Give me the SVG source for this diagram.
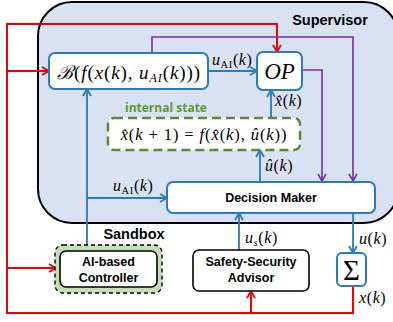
<svg xmlns="http://www.w3.org/2000/svg" width="393" height="322" viewBox="0 0 393 322">
  <defs>
    <style>
      .lbl { font-family: "Liberation Sans", Arial, sans-serif; font-weight: bold; fill: #000; text-anchor: middle; }
      .math { font-family: "Liberation Serif", "DejaVu Serif", serif; font-style: italic; fill: #000; }
      .rm { font-style: normal; }
      .box { fill: #fff; stroke: #2a7abf; stroke-width: 2; }
      .blk { fill: #fff; stroke: #000; stroke-width: 1.6; }
      .red { fill: none; stroke: #f00000; stroke-width: 2; }
      .blue { fill: none; stroke: #2a7abf; stroke-width: 1.8; }
      .purple { fill: none; stroke: #7030a0; stroke-width: 1.6; }
    </style>
    <marker id="ah-red" markerWidth="10" markerHeight="10" refX="8" refY="5" orient="auto" markerUnits="userSpaceOnUse">
      <path d="M1,1 L8,5 L1,9" fill="none" stroke="#f00000" stroke-width="1.8"/>
    </marker>
    <marker id="ah-blue" markerWidth="10" markerHeight="10" refX="8" refY="5" orient="auto" markerUnits="userSpaceOnUse">
      <path d="M1,1 L8,5 L1,9" fill="none" stroke="#2a7abf" stroke-width="1.8"/>
    </marker>
    <marker id="ah-purple" markerWidth="10" markerHeight="10" refX="8" refY="5" orient="auto" markerUnits="userSpaceOnUse">
      <path d="M1,1 L8,5 L1,9" fill="none" stroke="#7030a0" stroke-width="1.6"/>
    </marker>
  </defs>

  <rect width="393" height="322" fill="#fff"/>

  <!-- supervisor region -->
  <g id="supervisor">
    <rect x="38" y="2" width="360" height="221" rx="34" fill="#d9e2f3" stroke="#000" stroke-width="2"/>
    <text class="lbl" x="330" y="25" font-size="14.5">Supervisor</text>
    <text class="lbl" x="134" y="239" font-size="14.5">Sandbox</text>
  </g>

  <!-- connectors -->
  <g id="connectors">
    <!-- feedback of x(k) -->
    <path class="red" d="M353,286 V313 H7 V24 H277 V52" marker-end="url(#ah-red)"/>
    <path class="red" d="M7,71 H49" marker-end="url(#ah-red)"/>
    <path class="red" d="M7,268 H56" marker-end="url(#ah-red)"/>
    <path class="red" d="M251,313 V291" marker-end="url(#ah-red)"/>

    <!-- control signals -->
    <path class="blue" d="M208,71 H257" marker-end="url(#ah-blue)"/>
    <path class="blue" d="M87,245 V89" marker-end="url(#ah-blue)"/>
    <path class="blue" d="M87,198 H167" marker-end="url(#ah-blue)"/>
    <path class="blue" d="M271,118 V90" marker-end="url(#ah-blue)"/>
    <path class="blue" d="M260,182 V150" marker-end="url(#ah-blue)"/>
    <path class="blue" d="M239,250 V213" marker-end="url(#ah-blue)"/>
    <path class="blue" d="M353,213 V253" marker-end="url(#ah-blue)"/>

    <!-- supervisor decisions -->
    <path class="purple" d="M152,53 V37 H353 V181" marker-end="url(#ah-purple)"/>
    <path class="purple" d="M302,70 H322 V181" marker-end="url(#ah-purple)"/>

    <!-- signal labels -->
    <text class="math" x="212" y="65" font-size="16" letter-spacing="0.6">u<tspan class="rm" font-size="10.5" dy="3">AI</tspan><tspan class="rm" dy="-3">(</tspan>k<tspan class="rm">)</tspan></text>
    <text class="math" x="113" y="191" font-size="16" letter-spacing="0.6">u<tspan class="rm" font-size="10.5" dy="3">AI</tspan><tspan class="rm" dy="-3">(</tspan>k<tspan class="rm">)</tspan></text>
    <text class="math" x="275" y="106" font-size="16" letter-spacing="0.6">x̂<tspan class="rm">(</tspan>k<tspan class="rm">)</tspan></text>
    <text class="math" x="265" y="171" font-size="16" letter-spacing="0.6">û<tspan class="rm">(</tspan>k<tspan class="rm">)</tspan></text>
    <text class="math" x="245" y="243" font-size="16" letter-spacing="0.6">u<tspan font-size="10.5" dy="3">s</tspan><tspan class="rm" dy="-3">(</tspan>k<tspan class="rm">)</tspan></text>
    <text class="math" x="359" y="244" font-size="16" letter-spacing="0.6">u<tspan class="rm">(</tspan>k<tspan class="rm">)</tspan></text>
    <text class="math" x="359" y="303" font-size="16" letter-spacing="0.6">x<tspan class="rm">(</tspan>k<tspan class="rm">)</tspan></text>
  </g>

  <g id="barrier">
    <rect class="box" x="49" y="53" width="159" height="36" rx="6"/>
    <text class="math" x="129" y="79" font-size="19" letter-spacing="0.9" text-anchor="middle">ℬ<tspan class="rm">(</tspan>f<tspan class="rm">(</tspan>x<tspan class="rm">(</tspan>k<tspan class="rm">), </tspan>u<tspan font-size="12" dy="3">AI</tspan><tspan class="rm" dy="-3">(</tspan>k<tspan class="rm">)))</tspan></text>
  </g>

  <g id="op">
    <rect class="box" x="257" y="52" width="45" height="38" rx="6"/>
    <text class="math" x="279.5" y="79" font-size="23" text-anchor="middle">OP</text>
  </g>

  <g id="internal-state">
    <text x="125" y="112" font-family="'Open Sans', 'Liberation Sans', sans-serif" font-weight="bold" font-size="12" fill="#5b9a35">internal state</text>
    <rect x="108" y="118" width="192" height="32" rx="6" fill="#fff" stroke="#5b8a37" stroke-width="2.5" stroke-dasharray="9,5"/>
    <text class="math" x="204" y="140" font-size="16.5" letter-spacing="0.9" text-anchor="middle">x̂<tspan class="rm">(</tspan>k<tspan class="rm"> + 1) = </tspan>f<tspan class="rm">(</tspan>x̂<tspan class="rm">(</tspan>k<tspan class="rm">), </tspan>û<tspan class="rm">(</tspan>k<tspan class="rm">))</tspan></text>
  </g>

  <g id="decision-maker">
    <rect class="box" x="167" y="182" width="208" height="31" rx="6"/>
    <text class="lbl" x="271" y="202" font-size="12.5">Decision Maker</text>
  </g>

  <g id="ai-controller">
    <rect x="55" y="245" width="107" height="48" rx="8" fill="#c5e0b4" stroke="#000" stroke-width="1.4" stroke-dasharray="4,3"/>
    <rect class="blk" x="60" y="251" width="97" height="36" rx="6"/>
    <text class="lbl" x="108.5" y="266" font-size="12.5">AI-based</text>
    <text class="lbl" x="108.5" y="282" font-size="12.5">Controller</text>
  </g>

  <g id="safety-advisor">
    <rect class="blk" x="193" y="250" width="116" height="41" rx="6"/>
    <text class="lbl" x="251" y="266" font-size="12.5">Safety-Security</text>
    <text class="lbl" x="251" y="282" font-size="12.5">Advisor</text>
  </g>

  <g id="sum">
    <rect class="box" x="337" y="253" width="29" height="33" rx="5"/>
    <text x="351.5" y="280" font-family="'Liberation Serif', 'DejaVu Serif', serif" font-size="29" text-anchor="middle">Σ</text>
  </g>
</svg>
